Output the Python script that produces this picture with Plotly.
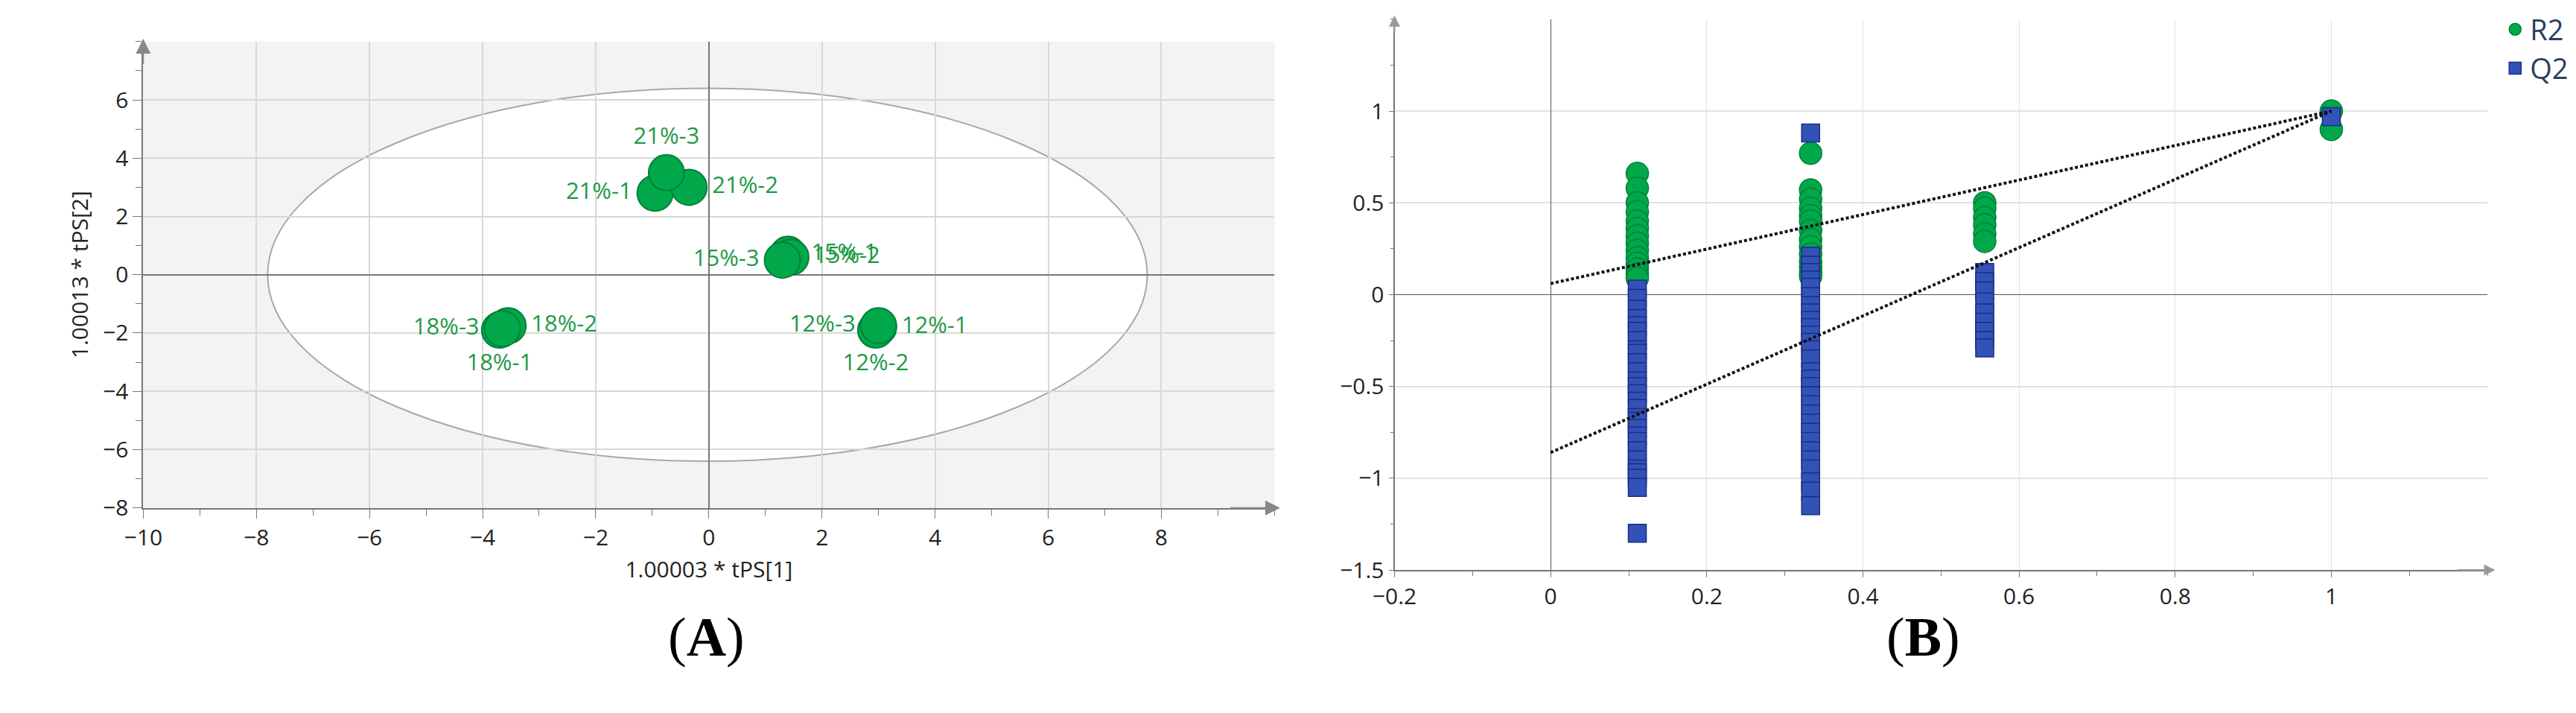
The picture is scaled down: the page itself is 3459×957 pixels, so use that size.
import plotly.graph_objects as go

# Panel A: PLS-DA scores
sample_names = ['21%-1', '21%-2', '21%-3', '15%-1', '15%-2', '15%-3',
                '18%-1', '18%-2', '18%-3', '12%-1', '12%-2', '12%-3']
t1 = [-0.95, -0.35, -0.75, 1.4, 1.45, 1.3, -3.7, -3.55, -3.65, 3.0, 2.95, 3.0]
t2 = [2.8, 3.0, 3.5, 0.7, 0.6, 0.5, -1.9, -1.75, -1.85, -1.8, -1.9, -1.75]
label_pos = ['middle left', 'middle right', 'top center', 'middle right', 'middle right', 'middle left',
             'bottom center', 'middle right', 'middle left', 'middle right', 'bottom center', 'middle left']

# Panel B: permutation test
r2_x = [0.111] * 14 + [0.333] * 14 + [0.556] * 6 + [1, 1]
r2_y = [0.66, 0.58, 0.5, 0.45, 0.4, 0.36, 0.32, 0.28, 0.24, 0.2, 0.17, 0.14, 0.11, 0.09,
        0.77, 0.57, 0.52, 0.47, 0.43, 0.4, 0.35, 0.3, 0.26, 0.22, 0.18, 0.15, 0.12, 0.1,
        0.5, 0.47, 0.42, 0.38, 0.33, 0.29,
        1.0, 0.9]
q2_x = [0.111] * 28 + [0.333] * 30 + [0.556] * 9 + [1]
q2_y = [0.03, -0.02, -0.08, -0.13, -0.17, -0.2, -0.25, -0.3, -0.32, -0.37, -0.42, -0.47, -0.5, -0.54,
        -0.58, -0.62, -0.67, -0.69, -0.73, -0.77, -0.8, -0.85, -0.9, -0.95, -0.97, -1.0, -1.05, -1.3,
        0.88, 0.21, 0.16, 0.12, 0.08, 0.04, -0.01, -0.06, -0.1, -0.14, -0.18, -0.22, -0.26, -0.3,
        -0.35, -0.42, -0.46, -0.5, -0.55, -0.6, -0.65, -0.7, -0.75, -0.8, -0.85, -0.9, -0.95,
        -1.02, -1.07, -1.15,
        0.12, 0.07, 0.02, -0.04, -0.1, -0.15, -0.2, -0.25, -0.29,
        0.97]
r2_line_y = [0.06, 1.0]
q2_line_y = [-0.86, 1.0]
line_x = [0, 1]

green = '#00a84a'
green_dark = '#00803a'
blue = '#3352b8'
blue_dark = '#1c2d80'
axis_font = dict(family='Open Sans', size=30, color='#222')

fig = go.Figure()

fig.add_trace(go.Scatter(
    x=t1, y=t2, mode='markers+text', text=sample_names, textposition=label_pos,
    textfont=dict(family='Open Sans', size=31, color='#1f9a45'),
    marker=dict(size=48, color=green, line=dict(color=green_dark, width=2)),
    showlegend=False, xaxis='x', yaxis='y', cliponaxis=False))

fig.add_trace(go.Scatter(
    x=r2_x, y=r2_y, mode='markers', name='R2',
    marker=dict(symbol='circle', size=30, color=green, line=dict(color=green_dark, width=1.5)),
    xaxis='x2', yaxis='y2'))
fig.add_trace(go.Scatter(
    x=q2_x, y=q2_y, mode='markers', name='Q2',
    marker=dict(symbol='square', size=24, color=blue, line=dict(color=blue_dark, width=1.5)),
    xaxis='x2', yaxis='y2'))
fig.add_trace(go.Scatter(x=line_x, y=r2_line_y, mode='lines', showlegend=False,
                         line=dict(color='#111', width=4, dash='4px,3px'), xaxis='x2', yaxis='y2'))
fig.add_trace(go.Scatter(x=line_x, y=q2_line_y, mode='lines', showlegend=False,
                         line=dict(color='#111', width=4, dash='4px,3px'), xaxis='x2', yaxis='y2'))

# Hotelling ellipse
fig.add_shape(type='circle', xref='x', yref='y', x0=-7.8, x1=7.75, y0=-6.4, y1=6.4,
              fillcolor='white', line=dict(color='#a8a8a8', width=2), layer='below')
fig.add_shape(type='rect', xref='x domain', yref='y domain', x0=0, x1=1, y0=0, y1=1,
              fillcolor='#f3f3f3', line=dict(width=0), layer='below')

fig.update_layout(
    width=3459, height=957, paper_bgcolor='white', plot_bgcolor='rgba(0,0,0,0)',
    margin=dict(l=0, r=0, t=0, b=0),
    xaxis=dict(domain=[0.045, 0.488], range=[-10, 10], tickvals=[-10, -8, -6, -4, -2, 0, 2, 4, 6, 8],
               tickfont=axis_font,
               showgrid=True, gridcolor='#d8d8d8', gridwidth=2, zeroline=True, zerolinecolor='#777',
               zerolinewidth=2, showline=True, linecolor='#777', linewidth=2, ticks='outside',
               ticklen=12, tickcolor='#777', minor=dict(dtick=1, ticks='outside', ticklen=8, tickcolor='#777'),
               title=dict(text='1.00003 * tPS[1]', font=axis_font, standoff=14), anchor='y'),
    yaxis=dict(domain=[0.281, 0.949], range=[-8, 8], tickvals=[-8, -6, -4, -2, 0, 2, 4, 6],
               tickfont=axis_font, showgrid=True, gridcolor='#d8d8d8', gridwidth=2, zeroline=True,
               zerolinecolor='#777', zerolinewidth=2, showline=True, linecolor='#777', linewidth=2,
               ticks='outside', ticklen=12, tickcolor='#777',
               minor=dict(dtick=1, ticks='outside', ticklen=8, tickcolor='#777'),
               title=dict(text='1.00013 * tPS[2]', font=axis_font, standoff=10), anchor='x'),
    xaxis2=dict(domain=[0.535, 0.963], range=[-0.2, 1.2], tickvals=[-0.2, 0, 0.2, 0.4, 0.6, 0.8, 1],
                tickfont=axis_font, showgrid=True, gridcolor='#e2e2e2', gridwidth=1, zeroline=True,
                zerolinecolor='#555', zerolinewidth=1, showline=True, linecolor='#777', linewidth=2,
                ticks='outside', ticklen=8, tickcolor='#777',
                minor=dict(dtick=0.1, ticks='outside', ticklen=6, tickcolor='#777'), anchor='y2'),
    yaxis2=dict(domain=[0.192, 0.981], range=[-1.5, 1.5], tickvals=[-1.5, -1, -0.5, 0, 0.5, 1],
                tickfont=axis_font, showgrid=True, gridcolor='#e2e2e2', gridwidth=2, zeroline=True,
                zerolinecolor='#555', zerolinewidth=1, showline=True, linecolor='#777', linewidth=2,
                ticks='outside', ticklen=6, tickcolor='#777',
                minor=dict(dtick=0.25, ticks='outside', ticklen=4, tickcolor='#777'), anchor='x2'),
    legend=dict(x=0.968, y=1.0, xanchor='left', yanchor='top', font=dict(family='Open Sans', size=38),
                bgcolor='rgba(0,0,0,0)', tracegroupgap=10),
    annotations=[
        dict(text='(<b>A</b>)', x=0.25, y=0.05, xref='paper', yref='paper', showarrow=False,
             font=dict(family='Liberation Serif', size=74, color='black')),
        dict(text='(<b>B</b>)', x=0.757, y=0.05, xref='paper', yref='paper', showarrow=False,
             font=dict(family='Liberation Serif', size=74, color='black')),
        # axis arrows
        dict(x=10.1, y=-8, ax=9.2, ay=-8, xref='x', yref='y', axref='x', ayref='y', showarrow=True,
             arrowhead=2, arrowsize=2, arrowwidth=2, arrowcolor='#888', text=''),
        dict(x=-10, y=8.1, ax=-10, ay=7.2, xref='x', yref='y', axref='x', ayref='y', showarrow=True,
             arrowhead=2, arrowsize=2, arrowwidth=2, arrowcolor='#888', text=''),
        dict(x=1.21, y=-1.5, ax=1.16, ay=-1.5, xref='x2', yref='y2', axref='x2', ayref='y2', showarrow=True,
             arrowhead=2, arrowsize=1.5, arrowwidth=2, arrowcolor='#999', text=''),
        dict(x=-0.2, y=1.52, ax=-0.2, ay=1.42, xref='x2', yref='y2', axref='x2', ayref='y2', showarrow=True,
             arrowhead=2, arrowsize=1.5, arrowwidth=2, arrowcolor='#999', text=''),
    ],
)

fig.write_html("out.html")
